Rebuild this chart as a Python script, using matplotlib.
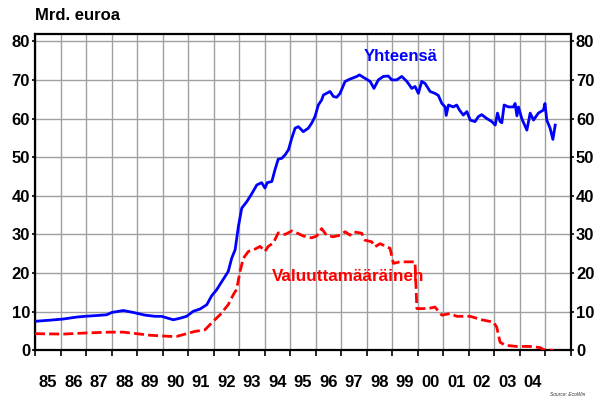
import numpy as np
import matplotlib
matplotlib.use("Agg")
import matplotlib.pyplot as plt
from matplotlib.ticker import FixedLocator, NullFormatter, FixedFormatter

plt.rcParams['font.family'] = ['Liberation Sans', 'DejaVu Sans']

# Yhteensä (total), mrd. euroa
tot_x = [1985.00, 1985.59, 1986.11, 1986.63, 1986.96, 1987.42, 1987.81, 1988.01, 1988.46, 1988.85,
         1989.31, 1989.70, 1989.96, 1990.16, 1990.42, 1990.68, 1990.94, 1991.20, 1991.47, 1991.73,
         1991.92, 1992.12, 1992.32, 1992.57, 1992.71, 1992.84, 1992.97, 1993.10, 1993.30, 1993.49,
         1993.69, 1993.88, 1994.01, 1994.10, 1994.28, 1994.40, 1994.53, 1994.67, 1994.80, 1994.93,
         1995.06, 1995.19, 1995.32, 1995.51, 1995.71, 1995.84, 1995.97, 1996.10, 1996.23, 1996.30,
         1996.56, 1996.69, 1996.82, 1996.95, 1997.15, 1997.34, 1997.61, 1997.71, 1997.93, 1998.13,
         1998.28, 1998.45, 1998.65, 1998.84, 1998.98, 1999.17, 1999.37, 1999.57, 1999.76, 1999.89,
         2000.02, 2000.15, 2000.28, 2000.48, 2000.67, 2000.80, 2000.94, 2001.07, 2001.11, 2001.20,
         2001.39, 2001.52, 2001.63, 2001.78, 2001.92, 2002.05, 2002.24, 2002.37, 2002.50, 2002.70,
         2002.90, 2003.03, 2003.12, 2003.22, 2003.29, 2003.38, 2003.55, 2003.74, 2003.81, 2003.88,
         2003.94, 2004.07, 2004.27, 2004.40, 2004.53, 2004.72, 2004.92, 2004.98, 2005.05, 2005.18,
         2005.29, 2005.38]
tot_y = [7.5, 7.8, 8.1, 8.6, 8.8, 9.0, 9.2, 9.8, 10.3, 9.8,
         9.1, 8.8, 8.8, 8.4, 7.9, 8.3, 8.8, 10.1, 10.7, 11.8,
         14.1, 15.7, 17.8, 20.4, 23.9, 26.0, 32.1, 36.8, 38.5, 40.5,
         42.8, 43.4, 42.0, 43.4, 43.7, 46.7, 49.5, 49.7, 50.6, 51.9,
         54.9, 57.5, 57.9, 56.6, 57.5, 58.8, 60.5, 63.5, 64.8, 66.1,
         67.0, 65.7, 65.5, 66.5, 69.6, 70.2, 70.9, 71.3, 70.4, 69.6,
         67.8, 70.0, 70.9, 71.0, 70.0, 70.0, 70.9, 69.6, 67.8, 68.3,
         66.5, 69.6, 69.1, 67.0, 66.5, 66.0, 63.9, 63.0, 60.8, 63.5,
         63.0, 63.5, 62.2, 60.9, 61.8, 59.6, 59.2, 60.5, 61.0, 60.0,
         59.2, 58.3, 61.4, 59.2, 58.9, 63.5, 63.0, 63.0, 63.9, 60.7,
         63.0, 60.0, 57.0, 61.4, 59.6, 61.4, 62.2, 63.9, 59.6, 57.5,
         54.6, 58.3]

# Valuuttamääräinen (foreign-currency denominated)
fx_x = [1985.00, 1986.11, 1987.03, 1987.94, 1988.46, 1988.99, 1989.51, 1990.29, 1990.55, 1990.94,
        1991.27, 1991.66, 1991.92, 1992.25, 1992.57, 1992.77, 1992.90, 1993.03, 1993.16, 1993.36,
        1993.62, 1993.82, 1994.01, 1994.14, 1994.34, 1994.53, 1994.80, 1995.06, 1995.25, 1995.51,
        1995.84, 1996.04, 1996.23, 1996.43, 1996.69, 1996.95, 1997.15, 1997.34, 1997.46, 1997.80,
        1997.93, 1998.19, 1998.32, 1998.52, 1998.91, 1999.04, 1999.30, 1999.69, 1999.89, 1999.96,
        2000.15, 2000.40, 2000.67, 2000.94, 2001.26, 2001.52, 2002.05, 2002.50, 2002.96, 2003.09,
        2003.22, 2003.42, 2003.88, 2004.40, 2004.79, 2004.92, 2005.31]
fx_y = [4.3, 4.2, 4.5, 4.7, 4.7, 4.3, 3.9, 3.6, 3.6, 4.3,
        4.9, 5.3, 7.1, 9.2, 11.8, 14.4, 15.8, 20.3, 23.8, 25.6,
        26.2, 26.9, 25.6, 26.9, 27.8, 30.4, 30.0, 30.9, 30.4, 29.6,
        29.1, 29.6, 31.5, 29.7, 29.4, 29.8, 30.7, 29.8, 30.7, 30.3,
        28.5, 28.1, 26.8, 27.6, 26.4, 22.5, 22.9, 22.9, 22.9, 10.8,
        10.8, 10.8, 11.2, 9.1, 9.5, 8.8, 8.8, 7.9, 7.3, 6.0,
        2.1, 1.3, 1.0, 1.0, 0.7, 0.2, 0.0]

years = list(range(1985, 2005))
year_labels = ['%02d' % (y % 100) for y in years]
yticks = [0, 10, 20, 30, 40, 50, 60, 70, 80]

fig = plt.figure(figsize=(6.0, 4.07), dpi=100)
ax = fig.add_axes([0.0583, 0.1393, 0.8934, 0.7764])

ax.plot(tot_x, tot_y, color='#0000ff', lw=2.0, zorder=3)
ax.plot(fx_x, fx_y, color='#ff0000', lw=2.0, dashes=(3.6, 1.5), zorder=3)

ax.set_xlim(1985, 2006)
ax.set_ylim(0, 81.8)

# year boundaries as ticks/grid, labels centred in each year
ax.xaxis.set_major_locator(FixedLocator(list(range(1985, 2007))))
ax.xaxis.set_major_formatter(NullFormatter())
ax.xaxis.set_minor_locator(FixedLocator([y + 0.5 for y in years]))
ax.xaxis.set_minor_formatter(FixedFormatter(year_labels))
ax.tick_params(axis='x', which='major', direction='out', length=4, width=1.2, color='black')
ax.tick_params(axis='x', which='minor', length=0, pad=18, labelsize=12)
for t in ax.xaxis.get_minorticklabels():
    t.set_fontweight('bold')

ax.set_yticks(yticks)
ax.tick_params(axis='y', which='major', direction='out', length=2.5, width=1.2,
               left=True, right=True, labelleft=True, labelright=True, labelsize=12, pad=1)
for t in ax.get_yticklabels():
    t.set_fontweight('bold')

ax.grid(True, which='major', color='#a0a0a0', lw=1.0, zorder=0)
ax.set_axisbelow(True)

for s in ax.spines.values():
    s.set_linewidth(1.6)
    s.set_color('black')

fig.text(35 / 600, 1 - 15 / 407, 'Mrd. euroa', fontsize=12, fontweight='bold', va='center', ha='left')

ax.text(1999.34, 76.0, 'Yhteensä', color='#0000ff', fontsize=12, fontweight='bold',
        ha='center', va='center')
ax.text(1994.27, 19.2, 'Valuuttamääräinen', color='#ff0000', fontsize=12.3, fontweight='bold',
        ha='left', va='center')

fig.text(568 / 600, 1 - 395 / 407, 'Source: EcoWin', fontsize=3.5, style='italic',
         color='#333333', ha='center', va='center')

fig.savefig('out.png', dpi=100)
